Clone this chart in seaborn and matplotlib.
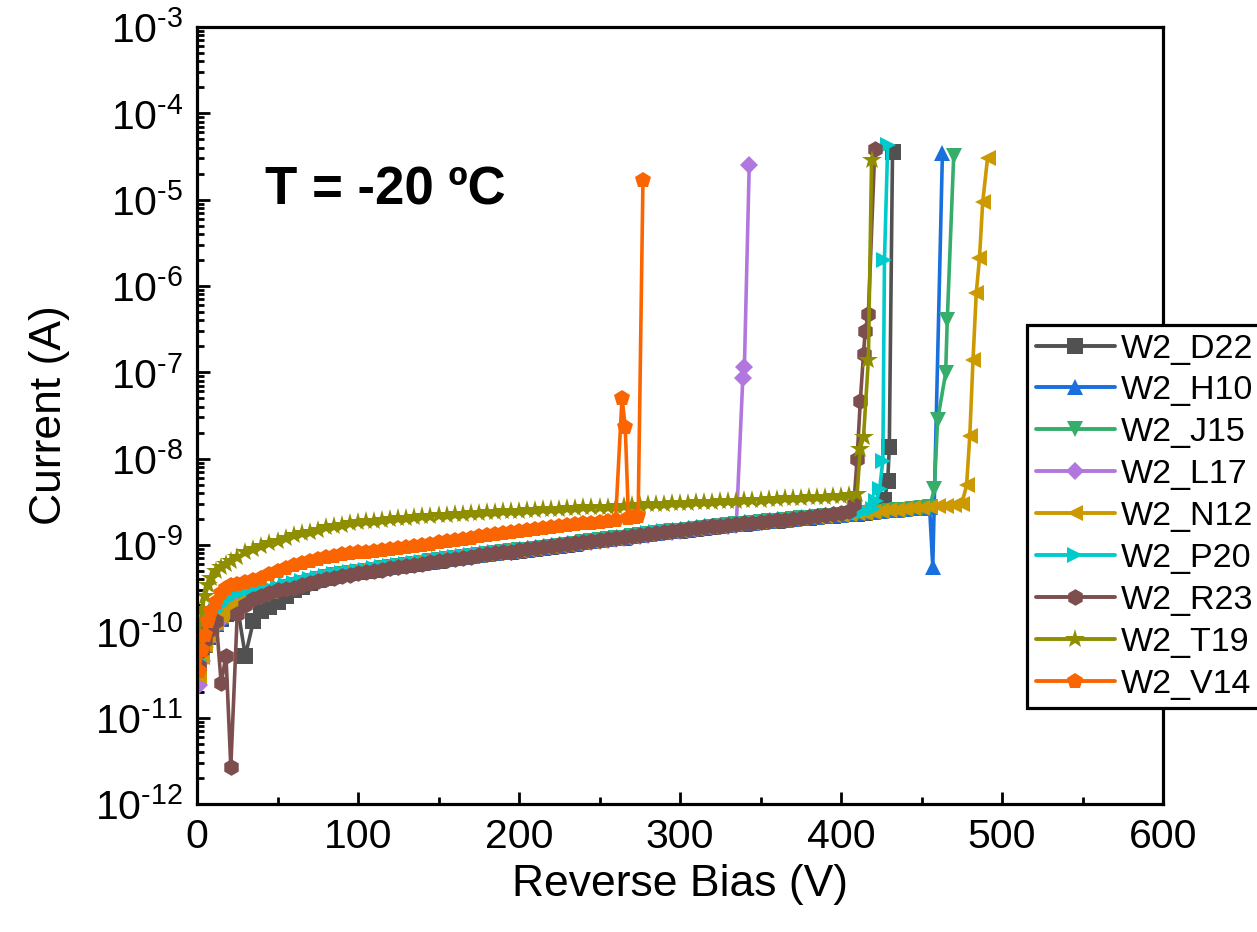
import matplotlib
matplotlib.use("Agg")
import matplotlib.pyplot as plt
from matplotlib.lines import Line2D
from matplotlib.ticker import LogLocator, MultipleLocator, NullFormatter, FuncFormatter
import numpy as np
import pandas as pd
import seaborn as sns

# ---------------- data (current in nA) ----------------
# shared bias grid of the sweep (V)
bias_grid = [1, 3, 5, 7, 9, 12, 15, 18, 21, 25,
             30, 35, 40, 45, 50, 55, 60, 65, 70, 75,
             80, 85, 90, 95, 100, 105, 110, 115, 120, 125,
             130, 135, 140, 145, 150, 155, 160, 165, 170, 175,
             180, 185, 190, 195, 200, 205, 210, 215, 220, 225,
             230, 235, 240, 245, 250, 255, 260, 265, 270, 275,
             280, 285, 290, 295, 300, 305, 310, 315, 320, 325,
             330, 335, 340, 345, 350, 355, 360, 365, 370, 375,
             380, 385, 390, 395, 400, 405, 410, 415, 420, 425,
             430, 435, 440, 445, 450, 455, 460, 465, 470, 475]

devices = ["W2_D22", "W2_H10", "W2_J15", "W2_L17", "W2_N12",
           "W2_P20", "W2_R23", "W2_T19", "W2_V14"]

d22_i = [0.04, 0.055, 0.07, 0.085, 0.1, 0.12, 0.14, 0.16, 0.18, 0.2,
         0.052, 0.13, 0.17, 0.19, 0.22, 0.26, 0.3, 0.33, 0.36, 0.39,
         0.42, 0.44, 0.46, 0.475, 0.49, 0.505, 0.52, 0.535, 0.55, 0.565,
         0.585, 0.6, 0.62, 0.64, 0.66, 0.68, 0.7, 0.72, 0.74, 0.76,
         0.78, 0.8, 0.82, 0.84, 0.86, 0.88, 0.91, 0.93, 0.96, 0.98,
         1.01, 1.04, 1.07, 1.1, 1.13, 1.16, 1.19, 1.22, 1.26, 1.29,
         1.33, 1.37, 1.41, 1.44, 1.47, 1.51, 1.55, 1.58, 1.62, 1.65,
         1.69, 1.73, 1.77, 1.8, 1.84, 1.88, 1.92, 1.95, 1.99, 2.03,
         2.07, 2.11, 2.15, 2.19, 2.23, 2.27, 2.31, 2.36, 2.42, 2.6]
d22_tail_v = [427, 429, 430, 432]
d22_tail_i = [3.3, 5.5, 13.5, 36000]

h10_i = [0.045, 0.06, 0.075, 0.09, 0.105, 0.125, 0.145, 0.17, 0.19, 0.215,
         0.235, 0.255, 0.275, 0.295, 0.315, 0.335, 0.355, 0.375, 0.395, 0.415,
         0.435, 0.455, 0.47, 0.485, 0.5, 0.515, 0.53, 0.545, 0.56, 0.575,
         0.595, 0.615, 0.635, 0.655, 0.675, 0.695, 0.715, 0.735, 0.755, 0.775,
         0.795, 0.815, 0.835, 0.855, 0.875, 0.9, 0.925, 0.95, 0.975, 1.0,
         1.03, 1.06, 1.09, 1.12, 1.15, 1.18, 1.21, 1.24, 1.28, 1.31,
         1.35, 1.39, 1.43, 1.46, 1.5, 1.53, 1.57, 1.6, 1.64, 1.67,
         1.71, 1.75, 1.79, 1.82, 1.86, 1.9, 1.94, 1.97, 2.01, 2.05,
         2.09, 2.13, 2.17, 2.21, 2.25, 2.29, 2.33, 2.38, 2.42, 2.46,
         2.51, 2.55, 2.6, 2.65, 2.7, 2.76]
h10_tail_v = [457, 463]
h10_tail_i = [0.56, 35000]

j15_i = [0.035, 0.05, 0.065, 0.08, 0.095, 0.115, 0.14, 0.16, 0.185, 0.205,
         0.225, 0.245, 0.265, 0.285, 0.305, 0.325, 0.345, 0.365, 0.385, 0.405,
         0.425, 0.445, 0.46, 0.475, 0.49, 0.505, 0.52, 0.535, 0.55, 0.565,
         0.585, 0.605, 0.625, 0.645, 0.665, 0.685, 0.705, 0.725, 0.745, 0.765,
         0.785, 0.805, 0.825, 0.845, 0.865, 0.885, 0.91, 0.935, 0.96, 0.985,
         1.01, 1.04, 1.07, 1.1, 1.13, 1.16, 1.19, 1.22, 1.26, 1.29,
         1.33, 1.37, 1.41, 1.44, 1.47, 1.51, 1.55, 1.58, 1.62, 1.65,
         1.69, 1.73, 1.77, 1.8, 1.84, 1.88, 1.92, 1.95, 1.99, 2.03,
         2.07, 2.11, 2.15, 2.19, 2.23, 2.27, 2.31, 2.35, 2.4, 2.44,
         2.49, 2.53, 2.57, 2.62, 2.67, 2.72]
j15_tail_v = [458, 460, 465, 466, 470]
j15_tail_i = [4.5, 28, 98, 400, 32000]

l17_i = [0.024, 0.045, 0.065, 0.08, 0.095, 0.115, 0.135, 0.16, 0.18, 0.2,
         0.22, 0.24, 0.26, 0.28, 0.3, 0.32, 0.34, 0.36, 0.38, 0.4,
         0.42, 0.44, 0.455, 0.47, 0.485, 0.5, 0.515, 0.53, 0.545, 0.56,
         0.58, 0.6, 0.62, 0.64, 0.66, 0.68, 0.7, 0.72, 0.74, 0.76,
         0.78, 0.8, 0.82, 0.84, 0.86, 0.88, 0.905, 0.93, 0.955, 0.98,
         1.0, 1.03, 1.06, 1.09, 1.12, 1.15, 1.18, 1.21, 1.25, 1.28,
         1.32, 1.36, 1.4, 1.43, 1.46, 1.5, 1.54, 1.57, 1.61, 1.64,
         1.68, 1.72]
l17_tail_v = [339, 340, 343]
l17_tail_i = [85, 115, 25000]

n12_i = [0.03, 0.05, 0.07, 0.09, 0.105, 0.125, 0.15, 0.17, 0.195, 0.215,
         0.235, 0.255, 0.275, 0.295, 0.315, 0.335, 0.355, 0.375, 0.395, 0.415,
         0.435, 0.455, 0.47, 0.485, 0.5, 0.515, 0.53, 0.545, 0.56, 0.575,
         0.595, 0.615, 0.635, 0.655, 0.675, 0.695, 0.715, 0.735, 0.755, 0.775,
         0.795, 0.815, 0.835, 0.855, 0.875, 0.895, 0.925, 0.945, 0.975, 0.995,
         1.025, 1.055, 1.085, 1.115, 1.145, 1.175, 1.205, 1.235, 1.275, 1.305,
         1.345, 1.385, 1.425, 1.455, 1.485, 1.525, 1.565, 1.595, 1.635, 1.665,
         1.705, 1.745, 1.785, 1.815, 1.855, 1.895, 1.935, 1.965, 2.005, 2.045,
         2.085, 2.125, 2.165, 2.205, 2.245, 2.285, 2.325, 2.37, 2.42, 2.46,
         2.51, 2.55, 2.6, 2.65, 2.7, 2.75, 2.8, 2.86, 2.92, 3.0]
n12_tail_v = [478, 480, 482, 484, 486, 488, 491]
n12_tail_i = [4.9, 18.5, 140, 820, 2100, 9300, 30000]

p20_i = [0.047, 0.07, 0.095, 0.12, 0.14, 0.17, 0.2, 0.23, 0.26, 0.28,
         0.29, 0.3, 0.31, 0.32, 0.33, 0.345, 0.36, 0.38, 0.4, 0.42,
         0.44, 0.46, 0.475, 0.49, 0.505, 0.52, 0.535, 0.55, 0.565, 0.58,
         0.6, 0.62, 0.64, 0.66, 0.68, 0.7, 0.72, 0.74, 0.76, 0.78,
         0.8, 0.82, 0.84, 0.86, 0.88, 0.9, 0.93, 0.95, 0.98, 1.0,
         1.03, 1.06, 1.09, 1.12, 1.15, 1.18, 1.21, 1.25, 1.28, 1.32,
         1.36, 1.4, 1.44, 1.47, 1.5, 1.54, 1.58, 1.61, 1.65, 1.68,
         1.72, 1.76, 1.8, 1.83, 1.87, 1.91, 1.95, 1.98, 2.02, 2.06,
         2.1, 2.14, 2.18, 2.22, 2.26, 2.3, 2.36, 2.45, 2.6]
p20_tail_v = [422, 424, 426, 427, 429]
p20_tail_i = [3.2, 4.5, 9.5, 2000, 43000]

r23_i = [0.04, 0.06, 0.08, 0.1, 0.11, 0.13, 0.025, 0.052, 0.0027, 0.16,
         0.2, 0.24, 0.26, 0.28, 0.3, 0.31, 0.32, 0.34, 0.36, 0.38,
         0.4, 0.42, 0.44, 0.455, 0.47, 0.49, 0.505, 0.52, 0.535, 0.55,
         0.57, 0.59, 0.61, 0.63, 0.65, 0.67, 0.69, 0.71, 0.73, 0.76,
         0.78, 0.8, 0.82, 0.84, 0.87, 0.89, 0.92, 0.94, 0.97, 0.99,
         1.02, 1.05, 1.08, 1.11, 1.14, 1.17, 1.2, 1.24, 1.27, 1.31,
         1.35, 1.39, 1.43, 1.46, 1.49, 1.53, 1.57, 1.6, 1.64, 1.67,
         1.71, 1.75, 1.79, 1.82, 1.86, 1.9, 1.94, 1.97, 2.01, 2.05,
         2.1, 2.15, 2.2, 2.26, 2.35, 2.5]
r23_tail_v = [408, 410, 412, 414, 415, 417, 421]
r23_tail_i = [3.0, 10, 47, 165, 300, 480, 39000]

t19_i = [0.08, 0.18, 0.26, 0.34, 0.42, 0.5, 0.55, 0.6, 0.65, 0.72,
         0.82, 0.9, 0.97, 1.05, 1.12, 1.2, 1.3, 1.36, 1.42, 1.5,
         1.6, 1.66, 1.72, 1.78, 1.83, 1.88, 1.92, 1.96, 2.0, 2.04,
         2.07, 2.11, 2.15, 2.19, 2.22, 2.25, 2.28, 2.31, 2.34, 2.37,
         2.39, 2.42, 2.45, 2.47, 2.5, 2.53, 2.56, 2.58, 2.61, 2.64,
         2.66, 2.68, 2.72, 2.74, 2.76, 2.79, 2.82, 2.85, 2.88, 2.92,
         2.95, 2.98, 3.0, 3.03, 3.06, 3.09, 3.12, 3.15, 3.18, 3.2,
         3.24, 3.27, 3.3, 3.33, 3.36, 3.4, 3.43, 3.46, 3.5, 3.54,
         3.57, 3.6, 3.64, 3.67, 3.7, 3.75, 3.85]
t19_tail_v = [412, 414, 417, 419]
t19_tail_i = [13, 18, 140, 29000]

v14_i = [0.035, 0.06, 0.09, 0.13, 0.17, 0.22, 0.28, 0.32, 0.34, 0.35,
         0.37, 0.39, 0.42, 0.46, 0.5, 0.54, 0.58, 0.62, 0.66, 0.69,
         0.72, 0.75, 0.78, 0.8, 0.82, 0.84, 0.86, 0.88, 0.9, 0.92,
         0.95, 0.98, 1.01, 1.04, 1.07, 1.1, 1.14, 1.18, 1.22, 1.26,
         1.3, 1.34, 1.38, 1.42, 1.46, 1.5, 1.54, 1.58, 1.62, 1.66,
         1.7, 1.74, 1.78, 1.82, 1.87, 1.92, 1.97]
v14_tail_v = [264, 266, 268, 270, 272, 274, 277]
v14_tail_i = [51, 23, 2.05, 2.1, 2.12, 2.15, 17000]

series = {
    "W2_D22": (d22_i, d22_tail_v, d22_tail_i),
    "W2_H10": (h10_i, h10_tail_v, h10_tail_i),
    "W2_J15": (j15_i, j15_tail_v, j15_tail_i),
    "W2_L17": (l17_i, l17_tail_v, l17_tail_i),
    "W2_N12": (n12_i, n12_tail_v, n12_tail_i),
    "W2_P20": (p20_i, p20_tail_v, p20_tail_i),
    "W2_R23": (r23_i, r23_tail_v, r23_tail_i),
    "W2_T19": (t19_i, t19_tail_v, t19_tail_i),
    "W2_V14": (v14_i, v14_tail_v, v14_tail_i),
}

colors = ["#515151", "#1A6FDF", "#37AD6B", "#B177DE", "#CC9900",
          "#00CBCC", "#7D4E4E", "#8E8E00", "#FB6501"]
marker_list = ["s", "^", "v", "D", "<", ">", "h", "*", "p"]
marker_sizes = [11, 12, 12, 9, 12, 12, 12, 15, 12]

# ---------------- build long-form table ----------------
rows = []
for name in devices:
    base_i, tv, ti = series[name]
    vs = bias_grid[:len(base_i)] + tv
    cs = list(base_i) + ti
    assert len(vs) == len(cs)
    for v, c in zip(vs, cs):
        rows.append({"dev": name, "V": v, "I": c * 1e-9})
df = pd.DataFrame(rows)

# ---------------- style ----------------
sns.set_theme(style="white")
plt.rcParams["font.family"] = ["Liberation Sans", "DejaVu Sans"]
plt.rcParams["mathtext.fontset"] = "custom"
plt.rcParams["mathtext.rm"] = "Liberation Sans"
plt.rcParams["mathtext.it"] = "Liberation Sans:italic"
plt.rcParams["mathtext.bf"] = "Liberation Sans:bold"
plt.rcParams["axes.unicode_minus"] = False
for key in ["text.color", "axes.labelcolor", "xtick.color", "ytick.color",
            "axes.edgecolor"]:
    plt.rcParams[key] = "black"

fig = plt.figure(figsize=(12.57, 9.32), dpi=100)
ax = fig.add_axes([197 / 1257, 1 - 804 / 932, (1163 - 197) / 1257, (804 - 27) / 932])

pal = dict(zip(devices, colors))
mk = dict(zip(devices, marker_list))

sns.lineplot(data=df, x="V", y="I", hue="dev", style="dev",
             hue_order=devices, style_order=devices,
             palette=pal, markers=mk, dashes=False,
             estimator=None, sort=False,
             linewidth=2.6, markersize=12, markeredgewidth=0,
             legend=False, ax=ax)

# per-device marker size (visual style only)
for line, ms in zip(ax.lines, marker_sizes):
    line.set_markersize(ms)

ax.set_yscale("log")
ax.set_xlim(0, 600)
ax.set_ylim(1e-12, 1e-3)

ax.xaxis.set_major_locator(MultipleLocator(100))
ax.xaxis.set_minor_locator(MultipleLocator(50))
ax.yaxis.set_major_locator(LogLocator(base=10, numticks=20))
ax.yaxis.set_minor_locator(LogLocator(base=10, subs=np.arange(2, 10), numticks=20))
ax.yaxis.set_minor_formatter(NullFormatter())


def log_fmt(val, pos):
    if val <= 0:
        return ""
    e = int(round(np.log10(val)))
    sign = r"\text{-}" if e < 0 else ""
    return r"$\mathdefault{10^{%s%d}}$" % (sign, abs(e))


ax.yaxis.set_major_formatter(FuncFormatter(log_fmt))

for s in ax.spines.values():
    s.set_linewidth(2.3)
    s.set_color("black")

ax.tick_params(which="major", direction="in", length=9, width=2.0,
               labelsize=29.5, pad=10, top=False, right=False,
               bottom=True, left=True, colors="black")
ax.tick_params(which="minor", direction="in", length=5, width=2.0,
               top=False, right=False, bottom=True, left=True)

ax.set_xlabel("Reverse Bias (V)", fontsize=32, labelpad=6)
ax.set_ylabel("Current (A)", fontsize=32, labelpad=18)

ax.text(0.070, 0.79, "T = -20 ºC", transform=ax.transAxes,
        fontsize=38, fontweight="bold", ha="left", va="center")

handles = [Line2D([], [], color=c, marker=m, lw=2.8, markersize=ms,
                  markeredgewidth=0)
           for c, m, ms in zip(colors, marker_list, marker_sizes)]
leg = ax.legend(handles, devices, loc="upper left",
                bbox_to_anchor=(1027 / 1257, 1 - 325 / 932),
                bbox_transform=fig.transFigure, fontsize=24.5,
                frameon=True, fancybox=False, framealpha=1,
                edgecolor="black", borderaxespad=0, borderpad=0.25,
                handlelength=2.35, handletextpad=0.15, labelspacing=0.32)
leg.get_frame().set_linewidth(2.3)
leg.set_zorder(10)

fig.savefig("out.png", dpi=100)
